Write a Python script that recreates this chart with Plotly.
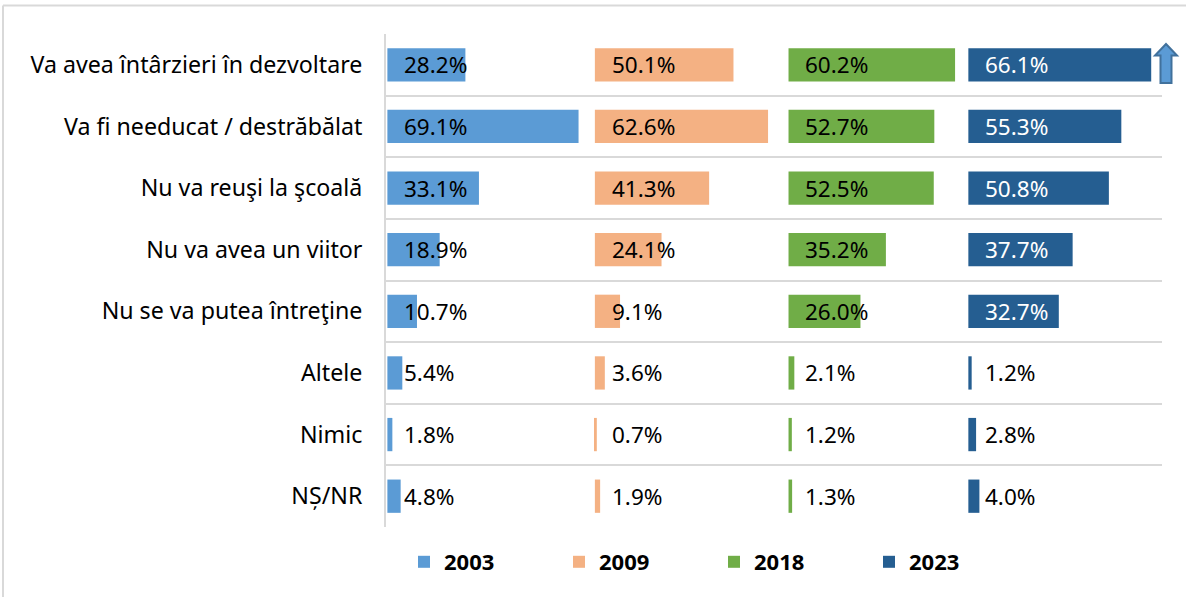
import plotly.graph_objects as go

categories = [
    "Va avea întârzieri în dezvoltare",
    "Va fi needucat / destrăbălat",
    "Nu va reuşi la şcoală",
    "Nu va avea un viitor",
    "Nu se va putea întreţine",
    "Altele",
    "Nimic",
    "NȘ/NR",
]
years = ["2003", "2009", "2018", "2023"]
v2003 = [28.2, 69.1, 33.1, 18.9, 10.7, 5.4, 1.8, 4.8]
v2009 = [50.1, 62.6, 41.3, 24.1, 9.1, 3.6, 0.7, 1.9]
v2018 = [60.2, 52.7, 52.5, 35.2, 26.0, 2.1, 1.2, 1.3]
v2023 = [66.1, 55.3, 50.8, 37.7, 32.7, 1.2, 2.8, 4.0]
series = [v2003, v2009, v2018, v2023]
panel_base = [0, 75, 145, 210]
colors = ["#5B9BD5", "#F4B183", "#70AD47", "#255E91"]

FONT = "Noto Sans"
FS = 22.5
W, H = 1186, 597
ML, MR, MT, MB = 386, 24, 34, 70
PW, PH = W - ML - MR, H - MT - MB

def px2x(px):
    return (px - ML) / PW

def px2y(py):
    return (H - MB - py) / PH

idx = list(range(len(categories)))
fig = go.Figure()
annotations = []
for k, (yr, vals, base, col) in enumerate(zip(years, series, panel_base, colors)):
    fig.add_trace(go.Bar(
        orientation="h", y=idx, x=vals, base=[base] * len(vals),
        name=yr, marker=dict(color=col, line=dict(width=0)), width=0.54,
        hoverinfo="skip",
    ))
    for i, v in enumerate(vals):
        inside = (k == 3 and v > 10)
        annotations.append(dict(
            x=base + 5.4, y=i, xref="x", yref="y", text=f"{v:.1f}%",
            showarrow=False, xanchor="left", yanchor="middle",
            font=dict(family=FONT, size=FS, color="white" if inside else "black"),
        ))

shapes = [
    # outer chart border (top and left)
    dict(type="line", xref="paper", yref="paper", x0=px2x(3), x1=px2x(W + 5),
         y0=px2y(5.5), y1=px2y(5.5), line=dict(color="#D9D9D9", width=2)),
    dict(type="line", xref="paper", yref="paper", x0=px2x(3), x1=px2x(3),
         y0=px2y(5.5), y1=px2y(H + 5), line=dict(color="#D9D9D9", width=2)),
]
# up arrow next to the top row
pts = [(1166, 44), (1177, 55.5), (1171.5, 55.5), (1171.5, 83), (1160.5, 83),
       (1160.5, 55.5), (1155, 55.5)]
path = "M " + " L ".join(f"{px2x(a):.5f},{px2y(b):.5f}" for a, b in pts) + " Z"
shapes.append(dict(type="path", xref="paper", yref="paper", path=path,
                   fillcolor="#5B9BD5", line=dict(color="#41719C", width=2)))

fig.update_layout(
    width=W, height=H,
    margin=dict(l=ML, r=MR, t=MT, b=MB, pad=0, autoexpand=False),
    paper_bgcolor="white", plot_bgcolor="white",
    barmode="overlay",
    font=dict(family=FONT, size=FS, color="black"),
    showlegend=True,
    legend=dict(orientation="h", x=px2x(404), xanchor="left", y=px2y(562), yanchor="middle",
                entrywidth=110, entrywidthmode="pixels", itemwidth=30,
                font=dict(family=FONT, size=22, color="black", weight="bold"),
                traceorder="normal", itemclick=False),
    xaxis=dict(range=[-0.5, 280], visible=False, fixedrange=True),
    yaxis=dict(range=[7.5, -0.5], tickvals=idx, ticktext=categories,
               showgrid=False, zeroline=False, ticks="", ticklabelstandoff=17,
               showline=True, linecolor="#D9D9D9", linewidth=2,
               tickfont=dict(family=FONT, size=23.2, color="black"),
               minor=dict(tick0=-0.5, dtick=1, showgrid=True, gridcolor="#D9D9D9",
                          gridwidth=2, ticks=""),
               fixedrange=True),
    annotations=annotations,
    shapes=shapes,
)

fig.write_html("out.html",
               config={"displayModeBar": False},
               post_script="document.body.style.margin='0';document.body.style.overflow='hidden';")
